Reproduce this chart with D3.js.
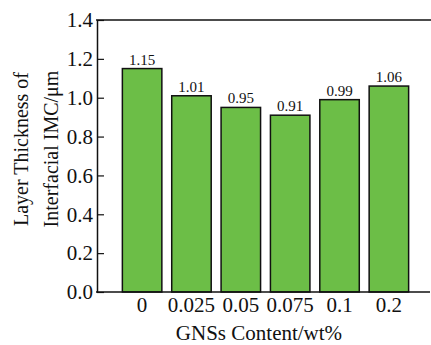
<!DOCTYPE html>
<html>
<head>
<meta charset="utf-8">
<title>IMC thickness</title>
<style>
  body { margin: 0; background: #fff; }
</style>
</head>
<body>
<div id="chart"></div>
<script src="https://cdn.jsdelivr.net/npm/d3@7"></script>
<script>
var categories = ['0', '0.025', '0.05', '0.075', '0.1', '0.2'];
var thickness = [1.15, 1.01, 0.95, 0.91, 0.99, 1.06];
var yTicks = [0, 0.2, 0.4, 0.6, 0.8, 1.0, 1.2, 1.4];

var serif = 'Liberation Serif';
var width = 431, height = 345;
var svg = d3.select('#chart').append('svg')
  .attr('width', width)
  .attr('height', height)
  .attr('font-family', serif);

var y = d3.scaleLinear().domain([0, 1.4]).range([292, 20]);
var x = d3.scaleBand().domain(categories).range([112.5, 418.5]).padding(0.2);

// bars
svg.selectAll('rect.bar')
  .data(thickness)
  .enter().append('rect')
  .attr('class', 'bar')
  .attr('x', function(d, i) { return x(categories[i]); })
  .attr('y', function(d) { return y(d); })
  .attr('width', x.bandwidth())
  .attr('height', function(d) { return y(0) - y(d); })
  .attr('fill', '#6cbe47')
  .attr('stroke', '#111')
  .attr('stroke-width', 1.5);

// value labels
svg.selectAll('text.val')
  .data(thickness)
  .enter().append('text')
  .attr('class', 'val')
  .attr('x', function(d, i) { return x(categories[i]) + x.bandwidth() / 2; })
  .attr('y', function(d) { return y(d) - 4; })
  .attr('text-anchor', 'middle')
  .attr('font-size', 15)
  .attr('fill', '#111')
  .text(function(d) { return d.toFixed(2); });

// y axis, ticks inward
var yAxis = d3.axisLeft(y).tickValues(yTicks).tickSizeInner(-7).tickSizeOuter(0)
  .tickPadding(4).tickFormat(d3.format('.1f'));
var gy = svg.append('g').attr('transform', 'translate(97,0)').call(yAxis)
  .attr('font-family', serif).attr('font-size', 21);
gy.selectAll('text').attr('fill', '#111');
gy.select('.domain').attr('stroke', '#111').attr('stroke-width', 1.5);
gy.selectAll('.tick line').attr('stroke', '#111').attr('stroke-width', 1.2);

// x axis, no ticks
var xAxis = d3.axisBottom(x).tickSize(0).tickPadding(5);
var gx = svg.append('g').attr('transform', 'translate(0,292)').call(xAxis)
  .attr('font-family', serif).attr('font-size', 21);
gx.select('.domain').remove();
gx.selectAll('text').attr('fill', '#111');

// frame lines bottom + top
svg.append('line').attr('x1', 96).attr('x2', 430).attr('y1', 292).attr('y2', 292)
  .attr('stroke', '#111').attr('stroke-width', 1.5);
svg.append('line').attr('x1', 96).attr('x2', 431).attr('y1', 20).attr('y2', 20)
  .attr('stroke', '#111').attr('stroke-width', 1.5);

// axis titles
var yt = svg.append('text')
  .attr('transform', 'translate(0,149) rotate(-90)')
  .attr('text-anchor', 'middle')
  .attr('font-size', 20)
  .attr('fill', '#111');
yt.append('tspan').attr('x', 0).attr('y', 28).text('Layer Thickness of');
yt.append('tspan').attr('x', 0).attr('y', 58).text('Interfacial IMC/\u03bcm');

svg.append('text')
  .attr('x', 259).attr('y', 340)
  .attr('text-anchor', 'middle')
  .attr('font-size', 21)
  .attr('fill', '#111')
  .text('GNSs Content/wt%');
</script>
</body>
</html>
